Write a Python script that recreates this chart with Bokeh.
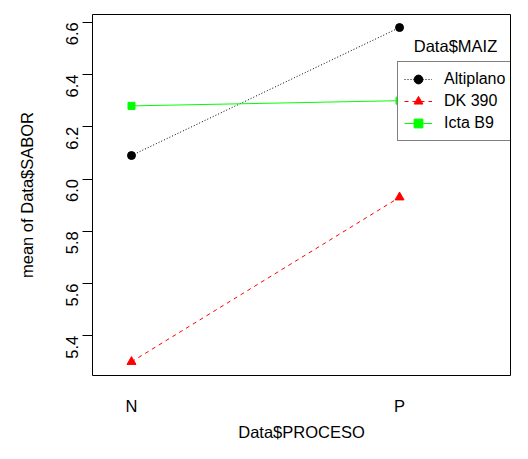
import math
from bokeh.plotting import figure
from bokeh.models import (Range1d, FixedTicker, Legend, LegendItem, Label,
                          ColumnDataSource)
from bokeh.embed import file_html
from bokeh.resources import INLINE

# ---- data ----
procesos = ["N", "P"]
x_pos = [1, 2]
altiplano = [6.09, 6.58]
dk390 = [5.30, 5.93]
icta_b9 = [6.28, 6.30]
series_names = ["Altiplano", "DK 390", "Icta B9"]
y_ticks = [5.4, 5.6, 5.8, 6.0, 6.2, 6.4, 6.6]

FONT = "Liberation Sans"
FS = "16.5px"

p = figure(width=512, height=443, output_backend="svg", toolbar_location=None,
           x_range=Range1d(0.8545, 2.414), y_range=Range1d(5.2476, 6.630),
           min_border_left=92, min_border_right=2, min_border_top=14,
           min_border_bottom=66)
p.background_fill_color = "white"
p.border_fill_color = "white"
p.outline_line_color = "black"
p.outline_line_width = 1
p.xgrid.visible = False
p.ygrid.visible = False

# x axis
p.xaxis.ticker = FixedTicker(ticks=x_pos)
p.xaxis.major_label_overrides = {x: lab for x, lab in zip(x_pos, procesos)}
p.xaxis.major_tick_line_color = None
p.xaxis.minor_tick_line_color = None
p.xaxis.axis_line_color = None
p.xaxis.major_tick_out = 0
p.xaxis.major_tick_in = 0
p.xaxis.major_label_standoff = 21
p.xaxis.axis_label = "Data$PROCESO"
p.xaxis.axis_label_standoff = 5

# y axis
p.yaxis.ticker = FixedTicker(ticks=y_ticks)
p.yaxis.major_label_overrides = {t: f"{t:.1f}" for t in y_ticks}
p.yaxis.minor_tick_line_color = None
p.yaxis.axis_line_color = None
p.yaxis.major_tick_out = 10
p.yaxis.major_tick_in = 0
p.yaxis.major_tick_line_color = "black"
p.yaxis.major_label_orientation = math.pi / 2
p.yaxis.major_label_standoff = 10
p.yaxis.axis_label = "mean of Data$SABOR"
p.yaxis.axis_label_standoff = 22

for ax in (p.xaxis, p.yaxis):
    ax.major_label_text_font = FONT
    ax.major_label_text_font_size = FS
    ax.major_label_text_color = "black"
    ax.axis_label_text_font = FONT
    ax.axis_label_text_font_size = FS
    ax.axis_label_text_font_style = "normal"
    ax.axis_label_text_color = "black"

styles = [
    (altiplano, "black", "1 2", "circle", 8),
    (dk390, "red", "4 4", "triangle", 9),
    (icta_b9, "#00FF00", "solid", "square", 7),
]

items = []
for name, (vals, col, dash, marker, size) in zip(series_names, styles):
    src = ColumnDataSource(dict(x=x_pos, y=vals))
    ln = p.line("x", "y", source=src, line_color=col, line_dash=dash, line_width=1)
    sc = p.scatter("x", "y", source=src, marker=marker, size=size,
                   fill_color=col, line_color=col)
    items.append(LegendItem(label=name, renderers=[ln, sc]))

legend = Legend(items=items, location=(305, 234), margin=0, padding=6,
                spacing=0, glyph_width=28, glyph_height=22, label_height=22,
                label_standoff=12, label_text_font=FONT, label_text_font_size="16px",
                label_text_color="black", border_line_color="black",
                border_line_width=1, background_fill_color="white",
                background_fill_alpha=1.0)
p.add_layout(legend, "center")

title = Label(x=363, y=330, x_units="screen", y_units="screen",
              text="Data$MAIZ", text_align="center", text_baseline="middle",
              text_font=FONT, text_font_size=FS, text_color="black")
p.add_layout(title)

open("out.html", "w").write(file_html(p, INLINE))
